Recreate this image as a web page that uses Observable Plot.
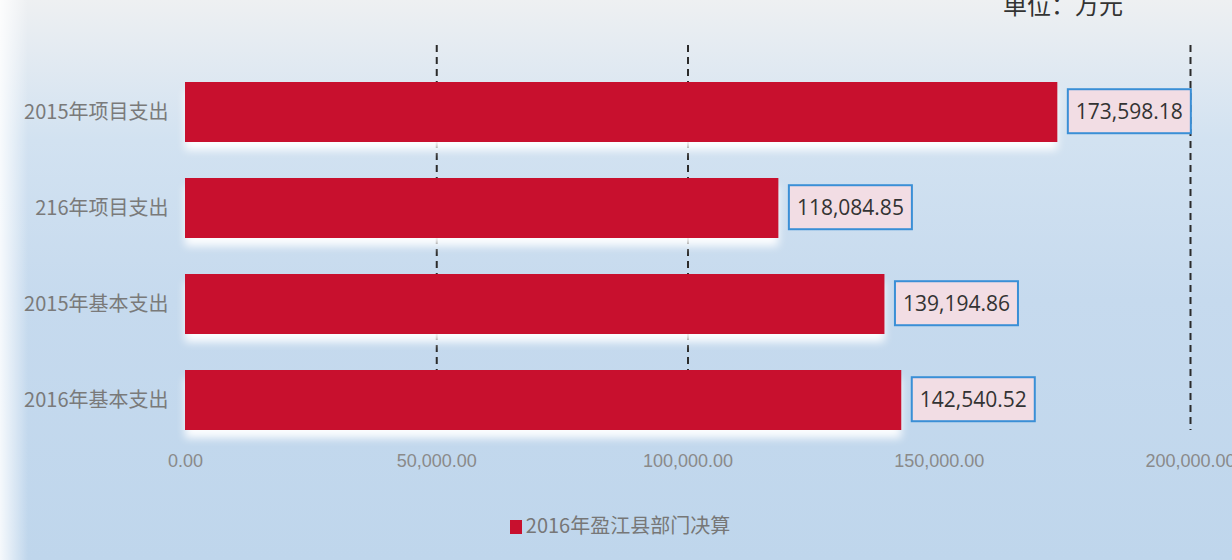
<!DOCTYPE html>
<html><head><meta charset="utf-8">
<script src="https://cdn.jsdelivr.net/npm/d3@7"></script>
<script src="https://cdn.jsdelivr.net/npm/@observablehq/plot@0.6"></script>
<style>
html,body{margin:0;padding:0;width:1232px;height:560px;overflow:hidden;}
body{position:relative;
 background:
  linear-gradient(to right, rgba(255,255,255,0.85) 0px, rgba(255,255,255,0) 28px),
  linear-gradient(to bottom, #eef0f2 0px, #e6ecf2 40px, #d2e2f1 140px, #c6daee 300px, #bfd6ec 560px);
 font-family:"Noto Sans CJK SC","Noto Sans",sans-serif;}
#unit{position:absolute;top:-14px;left:1003px;font-size:24px;color:#333;white-space:nowrap;}
#chart{position:absolute;top:0;left:0;}
#legend{position:absolute;top:508px;left:0;width:1240px;text-align:center;font-size:20px;color:#777;line-height:34px;}
#legend .sw{display:inline-block;width:12px;height:14px;background:#c8102e;margin-right:4px;vertical-align:-1px;}
</style></head><body>
<div id="unit"></div>
<div id="chart"></div>
<div id="legend"><span class="sw"></span><span id="legtext"></span></div>
<script>
const categories = ["2015年项目支出","216年项目支出","2015年基本支出","2016年基本支出"];
const values = [173598.18,118084.85,139194.86,142540.52];
const xTicks = [0,50000,100000,150000,200000];
const gridTicks = [50000,100000,200000];
const seriesName = "2016年盈江县部门决算";
const unitLabel = "单位：万元";

document.getElementById("unit").textContent = unitLabel;
document.getElementById("legtext").textContent = seriesName;

const data = categories.map((c,i)=>({category:c,value:values[i]}));
const fmt = d3.format(",.2f");
const barColor = "#c8102e";

const plot = Plot.plot({
  width:1232, height:500,
  marginLeft:185, marginRight:42, marginTop:45, marginBottom:60,
  style:{background:"transparent", overflow:"visible"},
  x:{domain:[0,200000], axis:null},
  y:{domain:categories, paddingInner:0.375, paddingOuter:0.233, align:0.78, axis:null},
  marks:[
    Plot.gridX(gridTicks,{stroke:"#2b2b2b", strokeOpacity:1, strokeWidth:2, strokeDasharray:"7,5", insetBottom:10}),
    Plot.barX(data,{y:"category", x:"value", fill:barColor}),
    Plot.text(data,{y:"category", x:"value", text:d=>fmt(d.value), dx:18, textAnchor:"start",
      fontSize:21, fill:"#333", fontFamily:"Open Sans"}),
    Plot.axisX(xTicks,{tickFormat:fmt, tickSize:0, tickPadding:14, fontSize:18, fill:"#8a8a8a",
      fontFamily:"Liberation Sans", label:null}),
    Plot.axisY({tickSize:0, tickPadding:17, fontSize:20, fill:"#7a7a7a",
      fontFamily:"Noto Sans CJK SC", label:null})
  ]
});
document.getElementById("chart").appendChild(plot);

// bar glow
d3.select(plot).selectAll('g[aria-label="bar"]').style("filter","drop-shadow(0px 8px 4px rgba(255,255,255,0.95))");

// label boxes
d3.select(plot).selectAll('g[aria-label="text"] text').each(function(){
  const b = this.getBBox();
  const padX = 8, h = 44;
  const cy = b.y + b.height/2;
  const r = document.createElementNS("http://www.w3.org/2000/svg","rect");
  r.setAttribute("x", b.x - padX);
  r.setAttribute("y", cy - h/2);
  r.setAttribute("width", b.width + 2*padX);
  r.setAttribute("height", h);
  r.setAttribute("fill", "#f2dde4");
  r.setAttribute("stroke", "#3a8fd6");
  r.setAttribute("stroke-width", 2);
  if (this.getAttribute("transform")) r.setAttribute("transform", this.getAttribute("transform"));
  this.parentNode.insertBefore(r, this);
});
</script>
</body></html>
